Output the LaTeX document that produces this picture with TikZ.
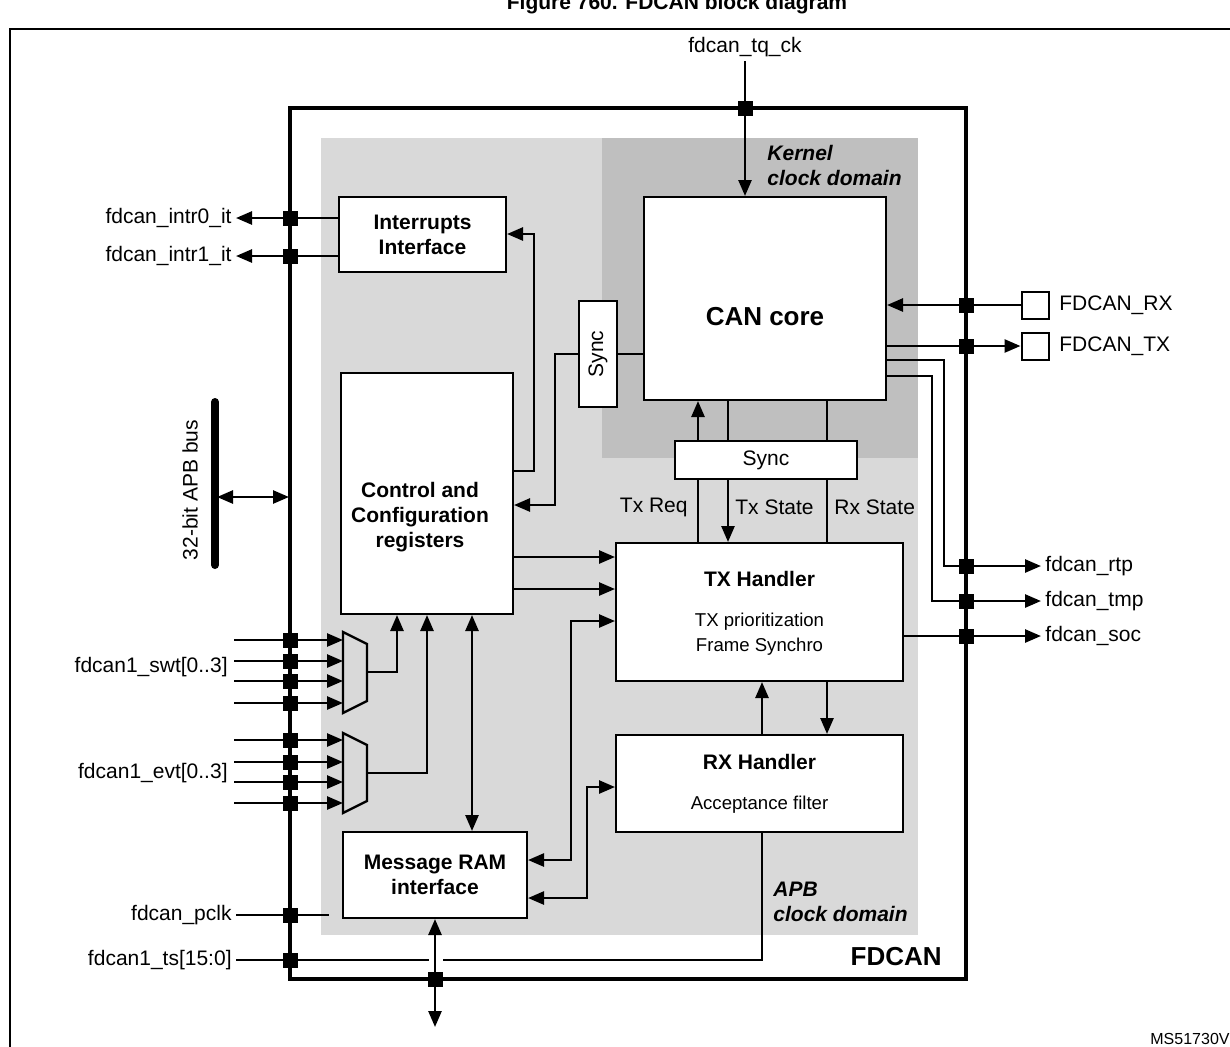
\documentclass[tikz,border=0pt]{standalone}
\usepackage{fontspec}
\setmainfont{Liberation Sans}
\usetikzlibrary{arrows.meta}
\definecolor{apbgray}{RGB}{217,217,217}
\definecolor{kergray}{RGB}{191,191,191}

\begin{document}
\begin{tikzpicture}
  [x=0.5pt,y=-0.5pt,
   every node/.style={font=\fontsize{10.5}{12.5}\selectfont,inner sep=2pt},
   box/.style={draw,fill=white,line width=1pt,inner sep=0pt,align=center},
   ttl/.style={font=\fontsize{10.5}{12.5}\selectfont\bfseries,align=center},
   sub/.style={font=\fontsize{9.3}{12.5}\selectfont,align=center},
   dom/.style={font=\fontsize{10.5}{12.5}\selectfont\bfseries\itshape,align=left,anchor=north west},
   jn/.style={fill=black,minimum size=7.5pt,inner sep=0pt},
   wire/.style={line width=1.3pt},
   arr/.style={wire,-{Triangle[length=8pt,width=6.5pt]}},
   darr/.style={wire,{Triangle[length=8pt,width=6.5pt]}-{Triangle[length=8pt,width=6.5pt]}}]

  \useasboundingbox (0,0) rectangle (1230,1046);

  % page frame and title
  \draw[line width=1.2pt] (10,1056) -- (10,29) -- (1240,29);
  \node[anchor=base,font=\fontsize{10.5}{12}\selectfont\bfseries] (lfig) at (677,9) {Figure 760. FDCAN block diagram};
  \node[anchor=base west,font=\fontsize{8}{9}\selectfont] (lms) at (1146,1044) {MS51730V2};

  % clock domains
  \fill[apbgray] (321,138) rectangle (918,935);
  \fill[kergray] (602,138) rectangle (918,458);
  \draw[line width=2pt] (290,108) rectangle (966,979);

  \node[dom] (lker) at (763,141) {Kernel\\clock domain};
  \node[dom] (lapb) at (769,878) {APB\\clock domain};
  \node[anchor=east,font=\fontsize{13}{15}\selectfont\bfseries] (lfd) at (946,957) {FDCAN};

  % blocks
  \node[box,minimum width=121pt,minimum height=101.5pt] (can) at (765,298.5) {};
  \node[font=\fontsize{13}{15}\selectfont\bfseries] (cantxt) at (765,317) {CAN core};
  \node[box,minimum width=19pt,minimum height=53pt] (sync1) at (598,354) {\rotatebox{90}{Sync}};
  \node[box,minimum width=91pt,minimum height=19pt] (sync2) at (766,460) {Sync};
  \node[box,ttl,minimum width=83.5pt,minimum height=37.5pt] (irq) at (422.5,234.5) {Interrupts\\Interface};
  \node[box,minimum width=86pt,minimum height=120.5pt] (ctrl) at (427,493.5) {};
  \node[ttl] (ctrltxt) at (420,517) {Control and\\Configuration\\registers};
  \node[box,minimum width=143.5pt,minimum height=69pt] (tx) at (759.5,612) {};
  \node[ttl] (txtxt) at (759.5,579) {TX Handler};
  \node[sub] (txsub) at (759.5,634) {TX prioritization\\Frame Synchro};
  \node[box,minimum width=143.5pt,minimum height=48.5pt] (rx) at (759.5,783.5) {};
  \node[ttl] (rxtxt) at (759.5,762) {RX Handler};
  \node[sub] (rxsub) at (759.5,805) {Acceptance filter};
  \node[box,ttl,minimum width=92pt,minimum height=43pt] (ram) at (435,875) {Message RAM\\interface};

  % pads
  \node[box,minimum size=13.5pt] (rxpad) at (1035,305) {};
  \node[box,minimum size=13.5pt] (txpad) at (1035,346) {};

  % labels
  \node (ltq) at (745,47) {fdcan\_tq\_ck};
  \node[anchor=east] (lint0) at (236,218) {fdcan\_intr0\_it};
  \node[anchor=east] (lint1) at (236,256) {fdcan\_intr1\_it};
  \node[anchor=east] (lswt) at (232,667) {fdcan1\_swt[0..3]};
  \node[anchor=east] (levt) at (232,773) {fdcan1\_evt[0..3]};
  \node[anchor=east] (lpclk) at (236,915) {fdcan\_pclk};
  \node[anchor=east] (lts) at (236,960) {fdcan1\_ts[15:0]};
  \node[rotate=90] (lbus) at (190,490) {32-bit APB bus};
  \node[anchor=west] (lrx) at (1055,305) {FDCAN\_RX};
  \node[anchor=west] (ltx) at (1055,346) {FDCAN\_TX};
  \node[anchor=west] (lrtp) at (1041,566) {fdcan\_rtp};
  \node[anchor=west] (ltmp) at (1041,601) {fdcan\_tmp};
  \node[anchor=west] (lsoc) at (1041,636) {fdcan\_soc};
  \node[anchor=east] (ltxreq) at (692,507) {Tx Req};
  \node[anchor=west] (ltxst) at (731,507) {Tx State};
  \node[anchor=west] (lrxst) at (830,507) {Rx State};

  % APB bus
  \coordinate (bus) at (217,497);
  \draw[line width=4pt,line cap=round] (215,402) -- (215,565);
  \draw[darr] (bus) -- (bus -| 289,0);

  % multiplexers
  \draw[line width=1.2pt,fill=apbgray] (343,632) -- (367,644) -- (367,701) -- (343,713) -- cycle;
  \draw[line width=1.2pt,fill=apbgray] (343,733) -- (367,745) -- (367,801) -- (343,813) -- cycle;
  \foreach \y in {640,661,681,703,740,762,782,803}
    \draw[arr] (234,\y) -- (343,\y);
  \draw[arr] (367,672) -| (ctrl.south -| 397,0);
  \draw[arr] (367,773) -| (ctrl.south -| 427,0);

  % connections
  \draw[arr] (ltq.south) -- (ltq.south |- can.north);
  \draw[arr] (irq.west |- lint0) -- (lint0.east);
  \draw[arr] (irq.west |- lint1) -- (lint1.east);
  \draw[wire] (can.west |- sync1) -- (sync1.east);
  \draw[arr] (sync1.west) -| (555,505) -- (ctrl.east |- 0,505);
  \draw[arr] (ctrl.east |- 0,471) -| (534,234) -- (irq.east |- 0,234);

  \draw[arr] (sync2.north -| 698,0) -- (can.south -| 698,0);
  \draw[wire] (tx.north -| 698,0) -- (sync2.south -| 698,0);
  \draw[wire] (can.south -| 728,0) -- (sync2.north -| 728,0);
  \draw[arr] (sync2.south -| 728,0) -- (tx.north -| 728,0);
  \draw[wire] (can.south -| 827,0) -- (sync2.north -| 827,0);
  \draw[wire] (sync2.south -| 827,0) -- (tx.north -| 827,0);

  \draw[arr] (ctrl.east |- 0,557) -- (tx.west |- 0,557);
  \draw[arr] (ctrl.east |- 0,589) -- (tx.west |- 0,589);
  \draw[darr] (ram.east |- 0,860) -| (571,621) -- (tx.west |- 0,621);
  \draw[darr] (ram.east |- 0,898) -| (587,787) -- (rx.west |- 0,787);
  \draw[darr] (ctrl.south -| 472,0) -- (ram.north -| 472,0);
  \draw[arr] (rx.north -| 762,0) -- (tx.south -| 762,0);
  \draw[arr] (tx.south -| 827,0) -- (rx.north -| 827,0);

  \draw[wire] (lts.east) -- (429,960);
  \draw[wire] (443,960) -| (rx.south -| 762,0);
  \draw[wire] (lpclk.east) -- (329,915);
  \draw[darr] (ram.south) -- (ram.south |- 0,1027);

  \draw[arr] (rxpad.west) -- (can.east |- rxpad);
  \draw[arr] (can.east |- txpad) -- (txpad.west);
  \draw[arr] (can.east |- 0,360) -| (944,566) -- (lrtp.west);
  \draw[arr] (can.east |- 0,376) -| (932,601) -- (ltmp.west);
  \draw[arr] (tx.east |- lsoc) -- (lsoc.west);

  % junctions on the FDCAN border
  \foreach \y in {218,256,640,661,681,703,740,762,782,803,915,960}
    \node[jn] (jl\y) at (290,\y) {};
  \foreach \y in {305,346,566,601,636}
    \node[jn] (jr\y) at (966,\y) {};
  \node[jn] (jtq) at (745,108) {};
  \node[jn] (jram) at (ram.south |- 0,979) {};

\end{tikzpicture}
\end{document}
